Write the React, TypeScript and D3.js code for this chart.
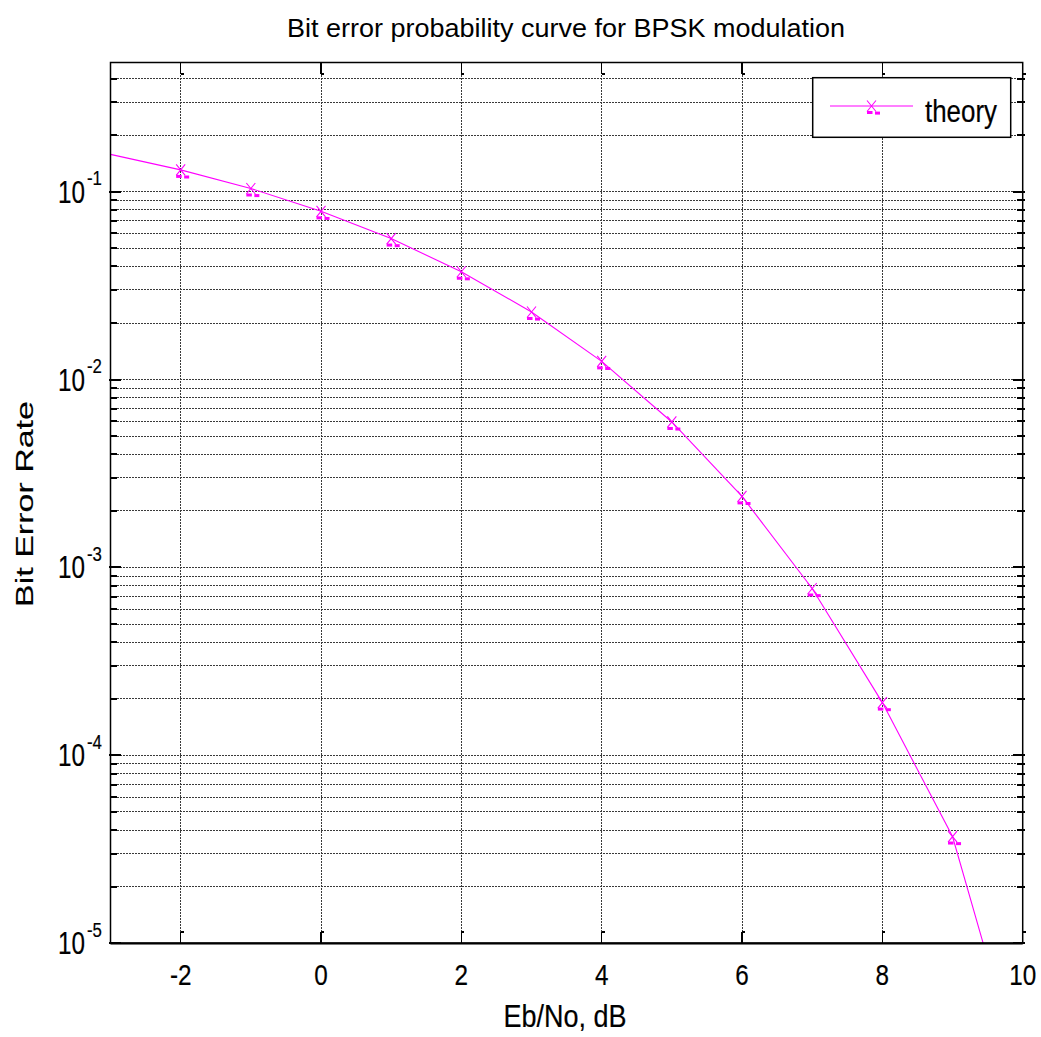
import React from "react";
import * as d3 from "d3";

const ebNoDb = [-3, -2, -1, 0, 1, 2, 3, 4, 5, 6, 7, 8, 9, 10];
const berTheory = [0.158, 0.1306, 0.104, 0.0786, 0.0563, 0.0375, 0.0229, 0.0125, 0.00595, 0.00239, 0.000773, 0.000191, 0.000037, 0.00000185];
const markerEbNo = [-2, -1, 0, 1, 2, 3, 4, 5, 6, 7, 8, 9];
const xTicks = [-2, 0, 2, 4, 6, 8, 10];
const yDecades = [-5, -4, -3, -2, -1];
const seriesName = "theory";
const titleText = "Bit error probability curve for BPSK modulation";
const xLabelText = "Eb/No, dB";
const yLabelText = "Bit Error Rate";

const W = 1041;
const H = 1037;
const L = 110.5, R = 1022.7, T = 62.5, B = 943.3;
const FONT = "'Liberation Sans', Arial, sans-serif";
const MAG = "#ff00ff";
const TS = { stroke: "#000", strokeWidth: 0.2 };

export default function App() {
  const x = d3.scaleLinear().domain([-3, 10]).range([L, R]);
  const y = d3.scaleLog().domain([1e-5, 0.487]).range([B, T]);

  const line = d3
    .line<number>()
    .x((_, i) => x(ebNoDb[i]))
    .y((d) => y(d));

  const minorVals: number[] = [];
  for (let e = -5; e <= -1; e++) {
    for (let m = 2; m <= 9; m++) {
      const v = m * Math.pow(10, e);
      if (v <= 0.487) minorVals.push(v);
    }
  }

  const valAt = (xv: number) => berTheory[ebNoDb.indexOf(xv)];

  const Marker = ({ cx, cy }: { cx: number; cy: number }) => (
    <g>
      <path d={`M${cx - 4.5},${cy - 5.5}L${cx + 4.5},${cy + 5.5}M${cx + 4.5},${cy - 5.5}L${cx - 4.5},${cy + 5.5}`} stroke={MAG} strokeWidth={1.1} fill="none" />
      <rect x={cx - 4.5} y={cy + 5} width={5.5} height={3} fill={MAG} />
      <rect x={cx + 3.5} y={cy + 5.6} width={5} height={3} fill={MAG} />
    </g>
  );

  return (
    <div style={{ position: "absolute", left: 0, top: 0 }}>
      <svg width={W} height={H} style={{ display: "block", background: "#fff" }}>
        <rect x={0} y={0} width={W} height={H} fill="#fff" />
        <defs>
          <clipPath id="plotclip">
            <rect x={L} y={T} width={R - L} height={B - T} />
          </clipPath>
        </defs>
        {/* grid */}
        <g stroke="#3a3a3a" strokeWidth={1} strokeDasharray="2,1" fill="none" shapeRendering="crispEdges">
          {xTicks.filter((t) => t > -3 && t < 10).map((t) => (
            <line key={"gx" + t} x1={x(t)} x2={x(t)} y1={T} y2={B} />
          ))}
          {yDecades.filter((e) => e > -5).map((e) => (
            <line key={"gy" + e} x1={L} x2={R} y1={y(Math.pow(10, e))} y2={y(Math.pow(10, e))} />
          ))}
          {minorVals.map((v, i) => (
            <line key={"gm" + i} x1={L} x2={R} y1={y(v)} y2={y(v)} />
          ))}
        </g>
        {/* ticks */}
        <g stroke="#000" strokeWidth={1.2} shapeRendering="crispEdges">
          {xTicks.map((t) => (
            <g key={"tx" + t}>
              <line x1={x(t)} x2={x(t)} y1={B} y2={B - 11} strokeWidth={1.5} />
              <line x1={x(t)} x2={x(t) + 3} y1={B - 11} y2={B - 11} strokeWidth={2} />
              <line x1={x(t)} x2={x(t)} y1={T} y2={T + 11} strokeWidth={1.5} />
              <line x1={x(t)} x2={x(t) + 3} y1={T + 11} y2={T + 11} strokeWidth={2} />
            </g>
          ))}
          {yDecades.map((e) => {
            const yy = y(Math.pow(10, e));
            return (
              <g key={"ty" + e}>
                <line x1={L - 2} x2={L + 10} y1={yy} y2={yy} strokeWidth={2} />
                <line x1={R + 2} x2={R - 10} y1={yy} y2={yy} strokeWidth={2} />
              </g>
            );
          })}
          {minorVals.map((v, i) => (
            <g key={"tm" + i}>
              <line x1={L} x2={L + 6} y1={y(v)} y2={y(v)} strokeWidth={2} />
              <line x1={R + 2} x2={R - 6} y1={y(v)} y2={y(v)} strokeWidth={2} />
            </g>
          ))}
        </g>
        {/* data */}
        <g clipPath="url(#plotclip)">
          <path d={line(berTheory) || ""} fill="none" stroke={MAG} strokeWidth={1.1} />
          {markerEbNo.map((xv) => (
            <Marker key={"m" + xv} cx={x(xv)} cy={y(valAt(xv))} />
          ))}
        </g>
        {/* axes box */}
        <rect x={L} y={T} width={R - L} height={B - T} fill="none" stroke="#000" strokeWidth={1.5} />
        <line x1={L} x2={R} y1={B} y2={B} stroke="#000" strokeWidth={2.2} />
        {/* x tick labels */}
        {xTicks.map((t) => (
          <text key={"xl" + t} transform={`translate(${x(t)},985) scale(0.81,1)`} textAnchor="middle" fontFamily={FONT} fontSize={30} fill="#000" {...TS}>
            {String(t)}
          </text>
        ))}
        {/* y tick labels */}
        {yDecades.map((e) => {
          const yy = y(Math.pow(10, e));
          return (
            <g key={"yl" + e}>
              <text transform={`translate(85,${yy + 11}) scale(0.77,1)`} textAnchor="end" fontFamily={FONT} fontSize={31.5} fill="#000" {...TS}>10</text>
              <text transform={`translate(87,${yy - 6.7}) scale(0.8,1)`} textAnchor="start" fontFamily={FONT} fontSize={21} fill="#000" {...TS}>{String(e)}</text>
            </g>
          );
        })}
        {/* title */}
        <text x={566} y={37} textAnchor="middle" fontFamily={FONT} fontSize={25} textLength={558} lengthAdjust="spacingAndGlyphs" fill="#000">{titleText}</text>
        {/* x label */}
        <text transform={`translate(565,1027) scale(0.87,1)`} textAnchor="middle" fontFamily={FONT} fontSize={31} fill="#000" {...TS}>{xLabelText}</text>
        {/* y label */}
        <text transform={`translate(33,504) rotate(-90) scale(1,0.73)`} textAnchor="middle" fontFamily={FONT} fontSize={34} fill="#000" {...TS}>{yLabelText}</text>
        {/* legend */}
        <g>
          <rect x={812.7} y={77.7} width={198} height={59.6} fill="#fff" stroke="#000" strokeWidth={1.5} />
          <line x1={830} x2={913} y1={106} y2={106} stroke={MAG} strokeWidth={1.1} />
          <Marker cx={871.5} cy={106} />
          <text transform={`translate(925,121.7) scale(0.81,1)`} fontFamily={FONT} fontSize={32} fill="#000" {...TS}>{seriesName}</text>
        </g>
      </svg>
    </div>
  );
}
